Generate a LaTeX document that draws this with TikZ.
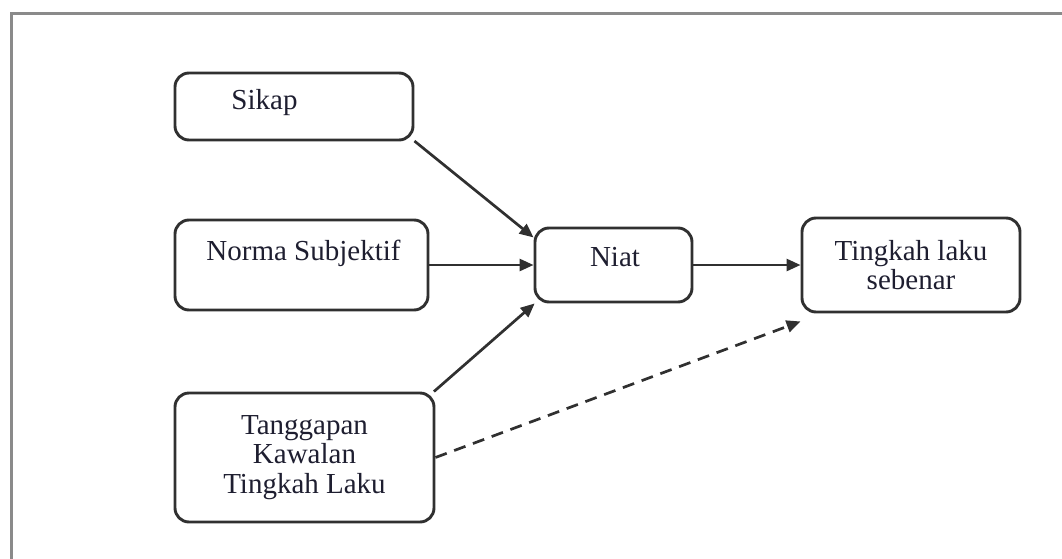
\documentclass[tikz,border=0pt]{standalone}
\usepackage{fontspec}
\setmainfont{Liberation Serif}
\usetikzlibrary{arrows.meta,calc}
\definecolor{framec}{HTML}{8A8A8A}
\definecolor{boxc}{HTML}{303030}
\definecolor{txtc}{HTML}{1E1E30}
\begin{document}
\begin{tikzpicture}[x=0.5pt,y=-0.5pt,
  font=\fontsize{14.5pt}{14.6pt}\selectfont,
  box/.style={draw=boxc, line width=1.45pt, rounded corners=7pt, inner sep=0pt, text=txtc, align=center},
  lbl/.style={text=txtc, inner sep=0pt, anchor=base},
  conn/.style={draw=boxc, line width=1.35pt, -{Triangle[length=7pt,width=6pt]}},
  dconn/.style={conn, dash pattern=on 6pt off 4pt}]
\useasboundingbox (0,0) rectangle (1062,558);
\draw[framec, line width=1.5pt] (11,560) -- (11,13) -- (1064,13);

\node[box, minimum width=119pt, minimum height=33.5pt] (sikap) at (294,106.5) {};
\node[lbl] (sikapt) at (264.5,109) {Sikap};
\node[box, minimum width=126.5pt, minimum height=45pt] (norma) at (301.5,265) {};
\node[lbl] (normat) at (303.5,260) {Norma Subjektif};
\node[box, minimum width=78.5pt, minimum height=37pt] (niat) at (613.5,265) {};
\node[lbl] (niatt) at (615,266) {Niat};
\node[box, minimum width=109pt, minimum height=47pt] (tingkah) at (911,265) {Tingkah laku\\sebenar};
\node[box, minimum width=129.5pt, minimum height=64.5pt] (tang) at (304.5,457.5) {Tanggapan\\Kawalan\\Tingkah Laku};
\coordinate (dend) at ($(tingkah.south west)+(0,8)$);

\draw[conn] (sikap.-16) -- (niat.161);
\draw[conn] (norma.east) -- (niat.west);
\draw[conn] (tang.27) -- (niat.-154);
\draw[conn] (niat.east) -- (tingkah.west);
\draw[dconn] (tang.east) -- (dend);
\end{tikzpicture}
\end{document}
